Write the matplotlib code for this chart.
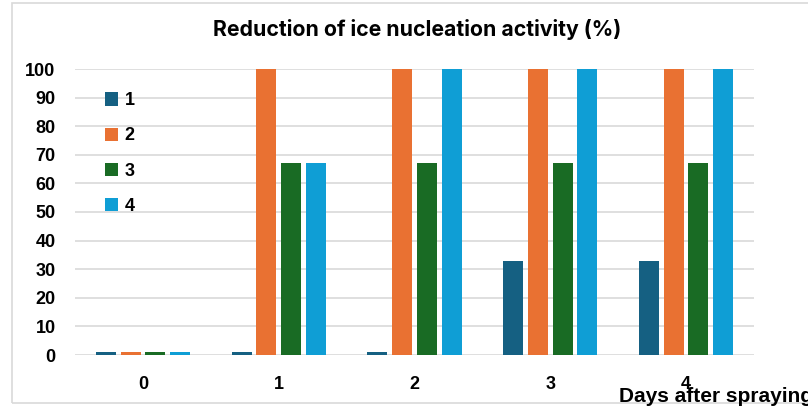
import numpy as np
import matplotlib
matplotlib.use('Agg')
import matplotlib.pyplot as plt
from matplotlib.patches import Rectangle

days = ['0', '1', '2', '3', '4']
series_names = ['1', '2', '3', '4']
s1 = [1, 1, 1, 33, 33]
s2 = [1, 100, 100, 100, 100]
s3 = [1, 67, 67, 67, 67]
s4 = [1, 67, 100, 100, 100]
colors = ['#156082', '#E97132', '#196B24', '#0F9ED5']

plt.rcParams['font.family'] = ['Liberation Sans', 'DejaVu Sans']

fig = plt.figure(figsize=(8.08, 4.09), dpi=100)
# outer chart border (right edge cut off like the reference)
fig.patches.append(Rectangle((12 / 808, 6 / 409), 1.0, 400 / 409,
                             transform=fig.transFigure, fill=False,
                             edgecolor='#d9d9d9', lw=1.2))

ax = fig.add_axes([75 / 808, 54 / 409, 679 / 808, 286 / 409])
x = np.arange(len(days))
step = 0.182
width = 0.147
for i, (vals, name) in enumerate(zip([s1, s2, s3, s4], series_names)):
    ax.bar(x + (i - 1.5) * step, vals, width, color=colors[i], label=name, zorder=3)

ax.set_xlim(-0.5, len(days) - 0.5)
ax.set_ylim(0, 100)
ax.set_yticks(range(0, 101, 10))
ax.set_xticks(x)
ax.set_xticklabels(days)
ax.yaxis.grid(True, color='#d9d9d9', lw=1.2, zorder=0)
for sp in ax.spines.values():
    sp.set_visible(False)
ax.tick_params(axis='both', length=0, labelsize=13)
ax.tick_params(axis='y', pad=14)
ax.tick_params(axis='x', pad=15)
for lab in ax.get_xticklabels() + ax.get_yticklabels():
    lab.set_fontweight('bold')

leg = ax.legend(loc='upper left', bbox_to_anchor=(0.02, 0.975), frameon=False,
                handlelength=0.75, handleheight=0.75, handletextpad=0.35,
                labelspacing=1.0, prop={'weight': 'bold', 'size': 13})

fig.text(417 / 808, 379 / 409, 'Reduction of ice nucleation activity (%)',
         ha='center', va='center', fontsize=15.3, fontweight='bold',
         family=['Inter', 'DejaVu Sans'])
fig.text(619 / 808, 12 / 409, 'Days after spraying', ha='left', va='center',
         fontsize=15, fontweight='bold')

fig.savefig('out.png', dpi=100)
